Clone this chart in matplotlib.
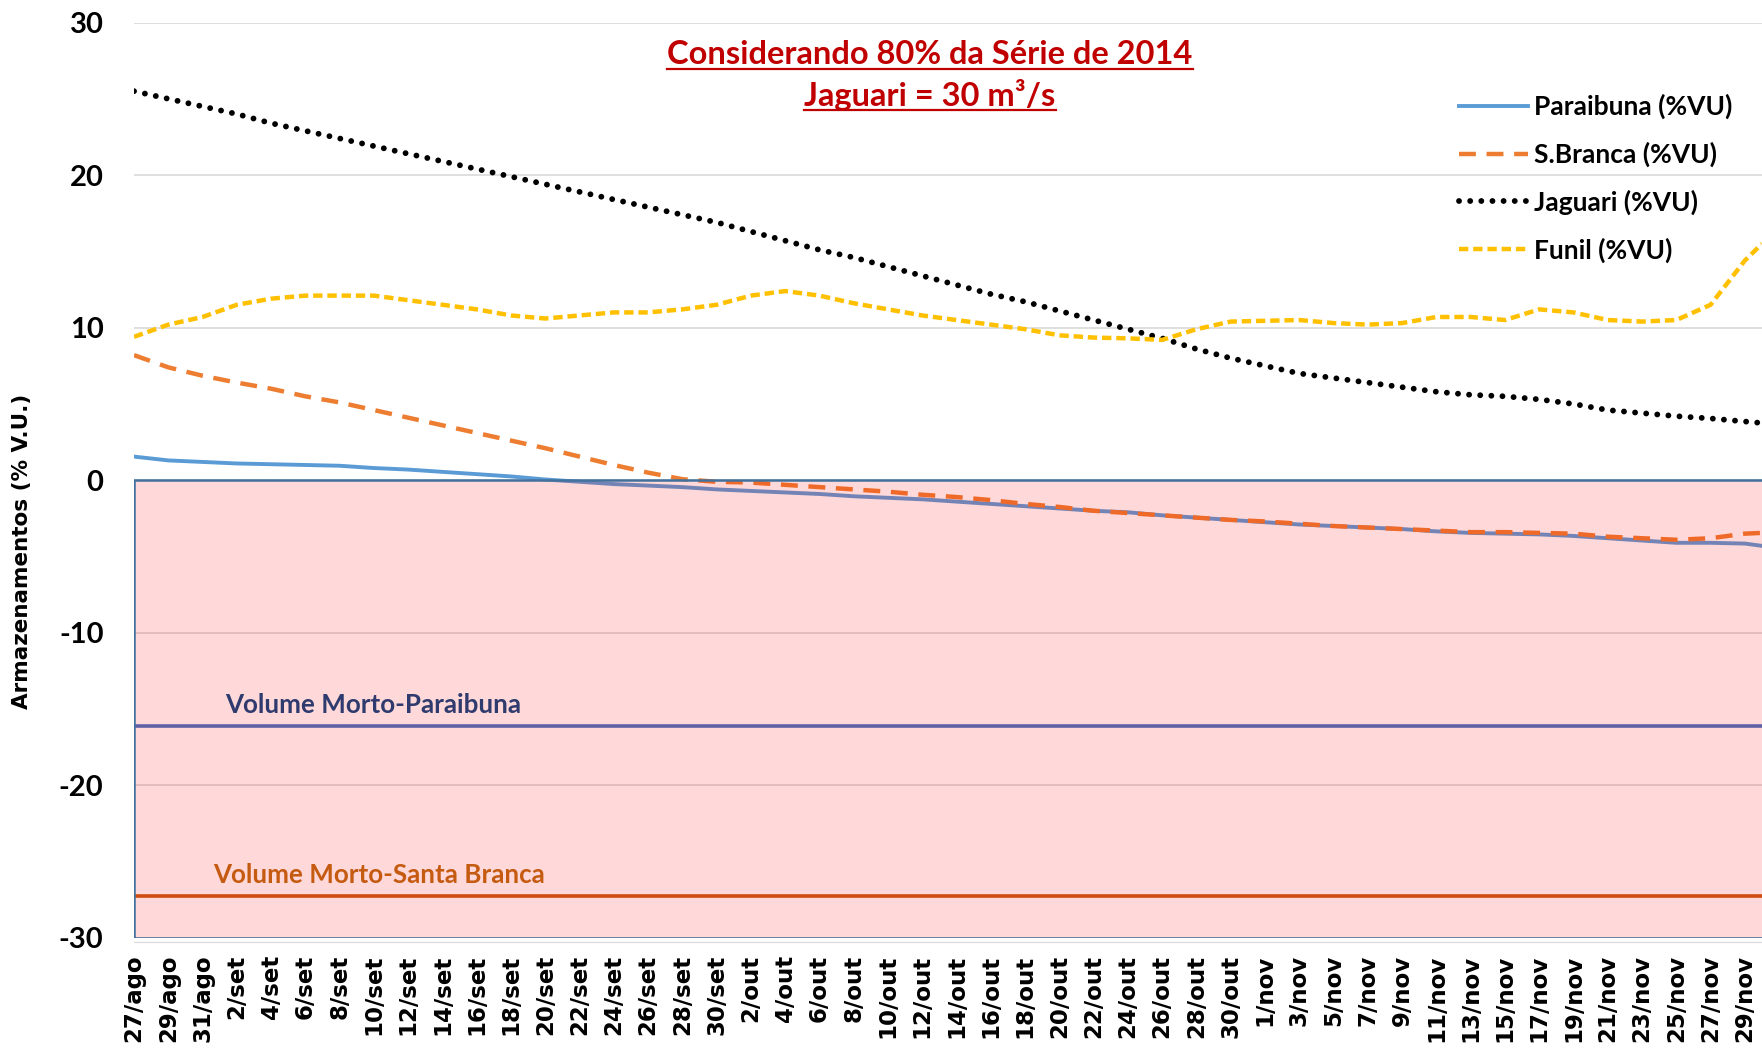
import matplotlib

matplotlib.use("Agg")
import matplotlib.pyplot as plt
from matplotlib.lines import Line2D
from matplotlib.patches import Rectangle

plt.rcParams["axes.unicode_minus"] = False

# Daily axis 27/ago .. 30/nov; values read at every second day plus the last day
dates = (["27/ago", "29/ago", "31/ago"]
         + [f"{d}/set" for d in range(2, 31, 2)]
         + [f"{d}/out" for d in range(2, 31, 2)]
         + [f"{d}/nov" for d in range(1, 30, 2)])
day_idx = list(range(0, 95, 2)) + [95]
n_days = 96

paraibuna = [1.55, 1.3, 1.2, 1.1, 1.05, 1.0, 0.95, 0.8, 0.7, 0.55, 0.4, 0.25, 0.05,
             -0.1, -0.25, -0.35, -0.45, -0.6, -0.7, -0.8, -0.9, -1.05, -1.15, -1.25,
             -1.4, -1.55, -1.7, -1.85, -2.0, -2.1, -2.3, -2.45, -2.6, -2.75, -2.9,
             -3.0, -3.1, -3.2, -3.35, -3.45, -3.5, -3.55, -3.65, -3.8, -3.95, -4.1,
             -4.1, -4.15, -4.3]
sbranca = [8.2, 7.4, 6.85, 6.4, 6.0, 5.5, 5.1, 4.6, 4.1, 3.6, 3.1, 2.6, 2.1, 1.55,
           1.0, 0.5, 0.07, -0.1, -0.15, -0.3, -0.45, -0.6, -0.75, -0.95, -1.1, -1.3,
           -1.55, -1.75, -2.0, -2.15, -2.3, -2.45, -2.6, -2.7, -2.85, -3.0, -3.1,
           -3.2, -3.3, -3.4, -3.4, -3.45, -3.5, -3.7, -3.8, -3.9, -3.8, -3.5, -3.45]
jaguari = [25.5, 25.0, 24.5, 24.0, 23.4, 22.9, 22.4, 21.9, 21.4, 20.9, 20.4, 19.9,
           19.4, 18.9, 18.4, 17.9, 17.4, 16.9, 16.3, 15.7, 15.1, 14.6, 14.0, 13.4,
           12.8, 12.2, 11.7, 11.1, 10.5, 9.9, 9.3, 8.6, 8.0, 7.5, 7.0, 6.7, 6.4, 6.1,
           5.8, 5.6, 5.5, 5.3, 5.0, 4.6, 4.4, 4.2, 4.05, 3.85, 3.75]
funil = [9.4, 10.2, 10.7, 11.5, 11.9, 12.1, 12.1, 12.1, 11.8, 11.5, 11.2, 10.8, 10.6,
         10.8, 11.0, 11.0, 11.2, 11.5, 12.1, 12.4, 12.1, 11.6, 11.2, 10.8, 10.5, 10.2,
         9.9, 9.5, 9.35, 9.3, 9.2, 9.9, 10.4, 10.45, 10.5, 10.3, 10.2, 10.3, 10.7,
         10.7, 10.5, 11.2, 11.0, 10.5, 10.4, 10.5, 11.5, 14.4, 15.5]

morto_paraibuna = -16.1
morto_sbranca = -27.25

NARROW = ["Liberation Sans Narrow", "Lato", "DejaVu Sans"]
W, H = 1762, 1048

fig = plt.figure(figsize=(W / 100, H / 100), dpi=100)
ax = fig.add_axes([134 / W, 110 / H, 1628 / W, 915.5 / H])

# spines first: repositioning a spine resets the tick labels
for s in ax.spines.values():
    s.set_visible(False)
ax.spines["bottom"].set_visible(True)
ax.spines["bottom"].set_color("#D9D9D9")
ax.spines["bottom"].set_position(("outward", 3))

ax.plot(day_idx, paraibuna, color="#5B9BD5", lw=2.8, label="Paraibuna (%VU)", zorder=3)
ax.plot(day_idx, sbranca, color="#ED7D31", lw=3.2, ls=(0, (3.8, 2.4)),
        label="S.Branca (%VU)", zorder=3)
ax.plot(day_idx, jaguari, color="black", lw=4.2, ls=(0, (0.01, 1.9)),
        dash_capstyle="round", label="Jaguari (%VU)", zorder=3)
ax.plot(day_idx, funil, color="#FFC000", lw=3.2, ls=(0, (2.1, 1.1)),
        label="Funil (%VU)", zorder=3)

ax.axhline(morto_paraibuna, color="#4472C4", lw=2.6, zorder=2)
ax.axhline(morto_sbranca, color="#C55A11", lw=2.6, zorder=2)

# translucent pink overlay for the dead-volume zone, then its outline
ax.add_patch(Rectangle((0, -30), n_days + 2, 30, facecolor="red", alpha=0.15,
                       edgecolor="none", zorder=4))
ax.add_patch(Rectangle((0, -30), n_days + 2, 30, facecolor="none",
                       edgecolor="#41719C", lw=1.8, zorder=5))

ax.text(5.3, -14.7, "Volume Morto-Paraibuna", color="#2F3B6E", fontsize=18.7,
        fontweight="bold", family=NARROW, va="center", zorder=6)
ax.text(4.6, -25.9, "Volume Morto-Santa Branca", color="#C55A11", fontsize=18.7,
        fontweight="bold", family=NARROW, va="center", zorder=6)

ax.set_xlim(0, n_days - 1)
ax.set_ylim(-30, 30)
ax.set_yticks([-30, -20, -10, 0, 10, 20, 30])
ax.set_xticks(day_idx[:-1])
ax.set_xticklabels(dates, rotation=90, fontsize=16.5, fontweight="bold")
for lbl in ax.get_yticklabels():
    lbl.set_fontfamily(NARROW)
    lbl.set_fontweight("bold")
    lbl.set_fontsize(21)
ax.tick_params(axis="y", length=0, pad=22)
ax.tick_params(axis="x", length=0, pad=9)
ax.grid(axis="y", color="#D9D9D9", lw=1.2, zorder=0)
ax.set_axisbelow(True)

fig.text(22 / W, 1 - 551 / H, "Armazenamentos (% V.U.)", rotation=90,
         fontsize=15.5, fontweight="bold", ha="center", va="center")

leg = ax.legend(loc="upper left", bbox_to_anchor=(1459 / W, 1 - 94 / H),
                bbox_transform=fig.transFigure, frameon=False, handlelength=2.6,
                handletextpad=0.25, labelspacing=0.85, borderpad=0, borderaxespad=0,
                prop={"family": NARROW, "weight": "bold", "size": 19})
leg.set_zorder(7)

t1 = fig.text(930 / W, 1 - 55 / H, "Considerando 80% da Série de 2014", color="#C00000",
              fontsize=23.5, fontweight="bold", family=NARROW, ha="center", va="center")
t2 = fig.text(930 / W, 1 - 95 / H, "Jaguari = 30 m³/s", color="#C00000",
              fontsize=23.5, fontweight="bold", family=NARROW, ha="center", va="center")

# underline the two title lines
fig.canvas.draw()
r = fig.canvas.get_renderer()
for t in (t1, t2):
    bb = t.get_window_extent(r)
    y = bb.y0 + 1
    fig.add_artist(Line2D([bb.x0 / W, bb.x1 / W], [y / H, y / H], color="#C00000",
                          lw=1.6, transform=fig.transFigure))

fig.savefig("out.png", dpi=100)
